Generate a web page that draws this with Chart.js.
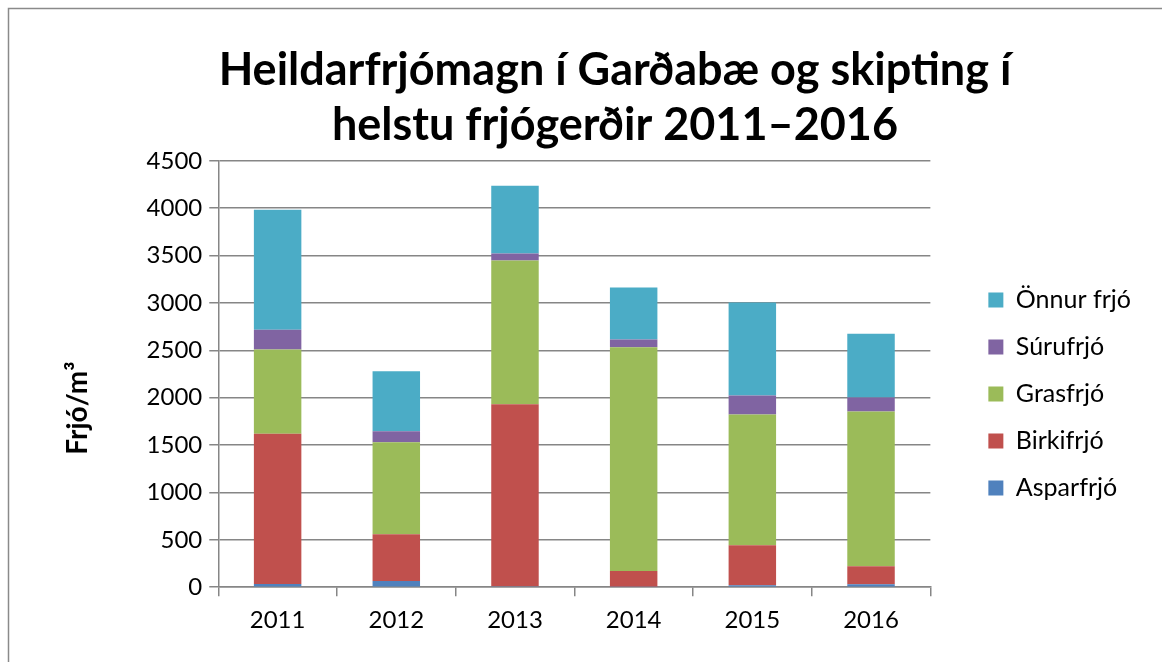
<!DOCTYPE html>
<html>
<head>
<meta charset="utf-8">
<script src="https://cdn.jsdelivr.net/npm/chart.js@4"></script>
<style>
  body { margin: 0; background: #fff; }
  #wrap { width: 1162px; height: 662px; }
</style>
</head>
<body>
<div id="wrap"><canvas id="chart" width="1162" height="662"></canvas></div>
<script>
const years = ['2011', '2012', '2013', '2014', '2015', '2016'];
const asparfrjo = [35, 65, 10, 5, 20, 30];
const birkifrjo = [1585, 495, 1920, 165, 423, 190];
const grasfrjo = [888, 970, 1518, 2361, 1380, 1634];
const surufrjo = [210, 115, 73, 84, 201, 148];
const onnurFrjo = [1265, 633, 717, 548, 980, 674];
const yTicks = [0, 500, 1000, 1500, 2000, 2500, 3000, 3500, 4000, 4500];

const FONT = 'Lato';
const GRID = '#868686';
const LEGEND_GAP = 36;   // aukabil vinstra megin við skýringar
const LEGEND_DOWN = 56;  // skýringar færðar niður
const TITLE_SHIFT = 16;  // titill færður til hægri

// ramminn utan um grafið
const frame = {
  id: 'frame',
  beforeDraw(chart) {
    const c = chart.ctx;
    c.save();
    c.fillStyle = '#fff';
    c.fillRect(0, 0, chart.width, chart.height);
    c.strokeStyle = '#8a8a8a';
    c.lineWidth = 1.5;
    c.beginPath();
    c.moveTo(8.5, chart.height);
    c.lineTo(8.5, 8.5);
    c.lineTo(chart.width, 8.5);
    c.stroke();
    c.restore();
  }
};

// hliðrar skýringum og titli eins og í Excel-myndinni
const nudge = {
  id: 'nudge',
  beforeLayout(chart) {
    const lg = chart.legend;
    if (lg && !lg._wider) {
      const fit = lg.fit.bind(lg);
      lg.fit = function() { fit(); this.width += LEGEND_GAP; };
      lg._wider = true;
    }
  },
  afterLayout(chart) {
    const lg = chart.legend;
    lg.left += LEGEND_GAP;
    lg.width -= LEGEND_GAP;
    lg.top += LEGEND_DOWN;
    lg.bottom += LEGEND_DOWN;
    const t = chart.titleBlock;
    t.left += TITLE_SHIFT;
    t.right += TITLE_SHIFT;
  }
};

function ds(label, data, color) {
  return {
    label: label,
    data: data,
    backgroundColor: color,
    borderWidth: 0,
    barPercentage: 0.4,
    categoryPercentage: 1
  };
}

new Chart(document.getElementById('chart'), {
  type: 'bar',
  data: {
    labels: years,
    datasets: [
      ds('Asparfrjó', asparfrjo, '#4F81BD'),
      ds('Birkifrjó', birkifrjo, '#C0504D'),
      ds('Grasfrjó', grasfrjo, '#9BBB59'),
      ds('Súrufrjó', surufrjo, '#8064A2'),
      ds('Önnur frjó', onnurFrjo, '#4BACC6')
    ]
  },
  options: {
    responsive: false,
    animation: false,
    layout: { padding: { top: 31, left: 57, right: 21, bottom: 17 } },
    scales: {
      x: {
        stacked: true,
        grid: { display: true, offset: true, drawOnChartArea: false, color: GRID, lineWidth: 1.5, tickLength: 9 },
        border: { color: GRID, width: 1.5 },
        ticks: { color: '#000', font: { family: FONT, size: 24 }, padding: 10 }
      },
      y: {
        stacked: true,
        min: 0,
        max: 4500,
        afterBuildTicks: axis => { axis.ticks = yTicks.map(v => ({ value: v })); },
        grid: { color: GRID, lineWidth: 1.5, tickLength: 9 },
        border: { color: GRID, width: 1.5 },
        ticks: { color: '#000', font: { family: FONT, size: 24 }, padding: 7, callback: v => String(v) },
        title: {
          display: true,
          text: 'Frjó/m³          ',
          color: '#000',
          font: { family: FONT, size: 28, weight: 'bold' },
          padding: { bottom: 45 }
        }
      }
    },
    plugins: {
      title: {
        display: true,
        text: ['Heildarfrjómagn í Garðabæ og skipting í', 'helstu frjógerðir 2011–2016'],
        color: '#000',
        font: { family: FONT, size: 45, weight: 'bold', lineHeight: 1.22 },
        padding: { top: 12, bottom: 8 }
      },
      legend: {
        position: 'right',
        reverse: true,
        labels: {
          color: '#000',
          font: { family: FONT, size: 25 },
          boxWidth: 15,
          boxHeight: 15,
          padding: 22
        }
      },
      tooltip: { enabled: false }
    }
  },
  plugins: [frame, nudge]
});
</script>
</body>
</html>
